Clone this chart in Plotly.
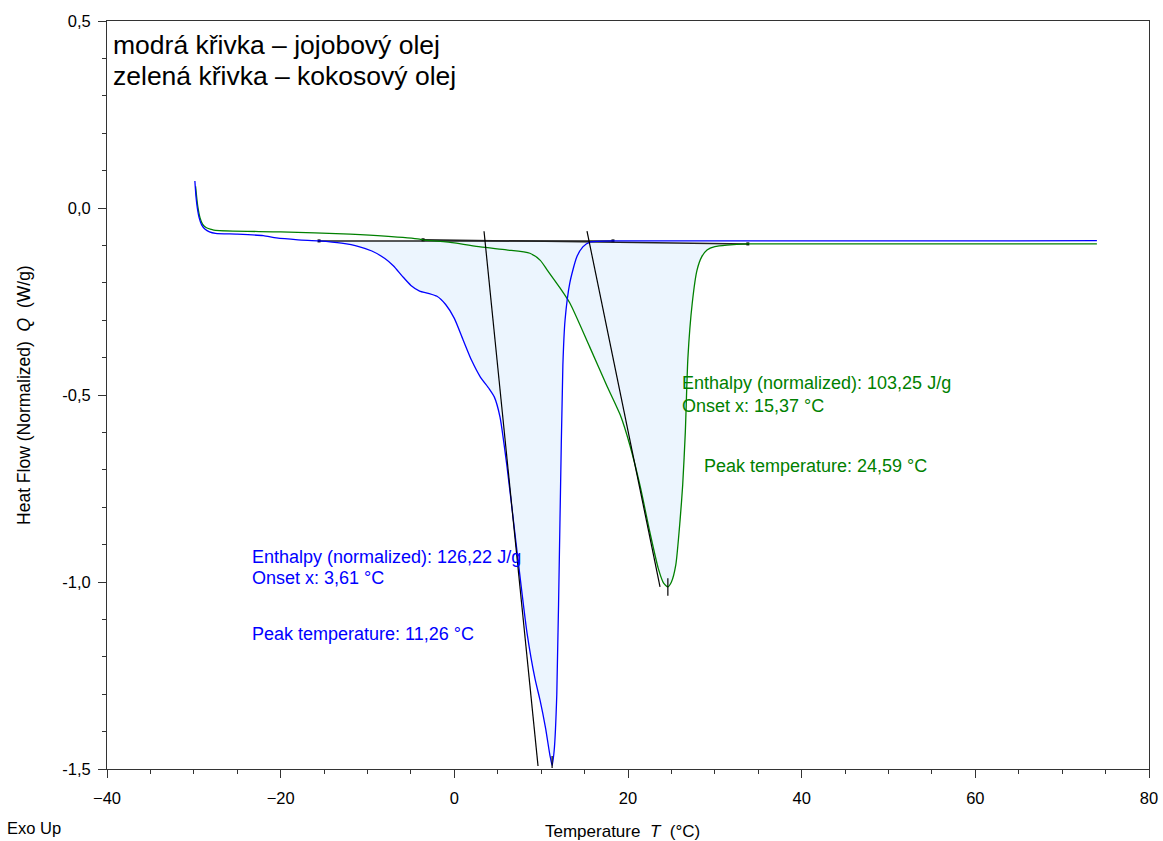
import plotly.graph_objects as go

# ---------------- data ----------------
# blue curve - jojoba oil
blue_x = [-29.88, -29.75, -29.6, -29.4, -29.1, -28.7, -28.2, -27.5, -25.0, -22.0, -20.5, -18.0,
          -15.58, -13.0, -11.0, -9.5, -8.0, -7.0, -6.0, -5.0, -4.0, -3.0, -2.0, -1.0, 0.0,
          1.0, 2.0, 3.0, 4.0, 4.6, 5.26, 6.07, 7.2, 8.37, 9.3, 9.87, 10.5, 11.0, 11.26,
          11.5, 11.8, 12.17, 12.5, 12.75, 13.3, 14.1, 14.8, 15.6, 16.5, 18.27, 25.0, 40.0, 60.0, 74.0]
blue_y = [0.072, 0.030, 0.000, -0.025, -0.045, -0.057, -0.064, -0.068, -0.070, -0.074, -0.080, -0.085,
          -0.088, -0.094, -0.103, -0.115, -0.135, -0.155, -0.182, -0.207, -0.222, -0.228, -0.236, -0.258, -0.295,
          -0.352, -0.408, -0.452, -0.483, -0.505, -0.559, -0.692, -0.914, -1.136, -1.26, -1.316, -1.39, -1.462, -1.49,
          -1.45, -1.30, -0.83, -0.42, -0.30, -0.200, -0.131, -0.104, -0.091, -0.089, -0.088, -0.088, -0.088, -0.088, -0.087]

# green curve - coconut oil
green_x = [-29.8, -29.7, -29.55, -29.3, -29.0, -28.6, -28.0, -27.5, -20.0, -12.0, -8.0, -4.0, -3.6,
           0.0, 3.0, 6.0, 8.7, 9.9, 10.7, 12.0, 13.3, 15.6, 17.6, 19.1, 20.2, 21.4, 22.5,
           23.5, 24.1, 24.59, 25.0, 25.5, 26.0, 26.3, 26.6, 26.9, 27.4, 27.95, 28.5, 29.1, 30.0,
           31.4, 33.8, 40.0, 60.0, 74.0]
green_y = [0.058, 0.035, 0.005, -0.025, -0.043, -0.052, -0.057, -0.060, -0.064, -0.070, -0.075, -0.083, -0.085,
           -0.093, -0.104, -0.112, -0.121, -0.140, -0.166, -0.208, -0.254, -0.372, -0.477, -0.553, -0.633,
           -0.744, -0.865, -0.965, -1.003, -1.013, -1.0, -0.955, -0.834, -0.74, -0.60, -0.40, -0.254, -0.166, -0.130,
           -0.112, -0.103, -0.099, -0.096, -0.096, -0.096, -0.096]

# integration baselines (x start, x end), (y start, y end)
blue_base_x = [-15.58, 18.27]
blue_base_y = [-0.088, -0.088]
green_base_x = [-3.6, 33.8]
green_base_y = [-0.085, -0.096]

# onset tangents
blue_tan_x = [3.42, 9.64]
blue_tan_y = [-0.062, -1.492]
green_tan_x = [15.28, 23.69]
green_tan_y = [-0.062, -1.013]

# peak markers
blue_peak_x = [11.26, 11.26]
blue_peak_y = [-1.465, -1.497]
green_peak_x = [24.59, 24.59]
green_peak_y = [-0.99, -1.037]

y_ticks = [-1.5, -1.0, -0.5, 0.0, 0.5]
y_ticktext = ["-1,5", "-1,0", "-0,5", "0,0", "0,5"]
x_ticks = [-40, -20, 0, 20, 40, 60, 80]

BLUE = "rgb(0,0,255)"
GREEN = "rgb(0,128,0)"
FILL = "rgb(236,245,254)"
FONT = "Liberation Sans, Arial, sans-serif"

fig = go.Figure()


def add_fill(cx, cy, bx, by):
    seg_x = [bx[0]] + [x for x in cx if bx[0] < x < bx[1]] + [bx[1]]
    seg_y = [by[0]] + [y for x, y in zip(cx, cy) if bx[0] < x < bx[1]] + [by[1]]
    fig.add_trace(go.Scatter(x=bx, y=by, mode="lines", line=dict(width=0, color=FILL),
                             showlegend=False, hoverinfo="skip"))
    fig.add_trace(go.Scatter(x=seg_x, y=seg_y, mode="lines", fill="tonexty", fillcolor=FILL,
                             line=dict(width=0, color=FILL, shape="spline", smoothing=0.6),
                             showlegend=False, hoverinfo="skip"))


add_fill(blue_x, blue_y, blue_base_x, blue_base_y)
add_fill(green_x, green_y, green_base_x, green_base_y)

for bx, by in [(blue_base_x, blue_base_y), (green_base_x, green_base_y)]:
    fig.add_trace(go.Scatter(x=bx, y=by, mode="lines+markers", line=dict(color="#222", width=1.5),
                             marker=dict(size=3, color="#000", symbol="square"),
                             showlegend=False))

fig.add_trace(go.Scatter(x=green_x, y=green_y, mode="lines",
                         line=dict(color=GREEN, width=1.3, shape="spline", smoothing=0.6),
                         showlegend=False))
fig.add_trace(go.Scatter(x=blue_x, y=blue_y, mode="lines",
                         line=dict(color=BLUE, width=1.3, shape="spline", smoothing=0.6),
                         showlegend=False))

for tx, ty in [(blue_tan_x, blue_tan_y), (green_tan_x, green_tan_y),
               (blue_peak_x, blue_peak_y), (green_peak_x, green_peak_y)]:
    fig.add_trace(go.Scatter(x=tx, y=ty, mode="lines", line=dict(color="#000", width=1.2),
                             showlegend=False))

annos = [
    dict(x=-39.5, y=0.437, text="modrá křivka – jojobový olej", size=26.5, color="#000"),
    dict(x=-39.5, y=0.353, text="zelená křivka – kokosový olej", size=26.5, color="#000"),
    dict(x=25.95, y=-0.468, text="Enthalpy (normalized): 103,25 J/g", size=18, color=GREEN),
    dict(x=25.95, y=-0.529, text="Onset x: 15,37 °C", size=18, color=GREEN),
    dict(x=28.5, y=-0.690, text="Peak temperature: 24,59 °C", size=18, color=GREEN),
    dict(x=-23.5, y=-0.933, text="Enthalpy (normalized): 126,22 J/g", size=18, color=BLUE),
    dict(x=-23.5, y=-0.989, text="Onset x: 3,61 °C", size=18, color=BLUE),
    dict(x=-23.5, y=-1.139, text="Peak temperature: 11,26 °C", size=18, color=BLUE),
]
for a in annos:
    fig.add_annotation(x=a["x"], y=a["y"], xref="x", yref="y", text=a["text"], showarrow=False,
                       xanchor="left", yanchor="middle",
                       font=dict(family=FONT, size=a["size"], color=a["color"]))

fig.add_annotation(x=-0.0797, y=0.5, xref="paper", yref="paper", textangle=-90,
                   text="Heat Flow (Normalized)  <i>Q</i>  (W/g)", showarrow=False,
                   xanchor="center", yanchor="middle", font=dict(family=FONT, size=17.5, color="#000"))
fig.add_annotation(x=0.4952, y=-0.0829, xref="paper", yref="paper",
                   text="Temperature  <i>T</i>  (°C)", showarrow=False,
                   xanchor="center", yanchor="middle", font=dict(family=FONT, size=17, color="#000"))
fig.add_annotation(x=-0.098, y=-0.0789, xref="paper", yref="paper",
                   text="Exo Up", showarrow=False,
                   xanchor="left", yanchor="middle", font=dict(family=FONT, size=16.5, color="#000"))

fig.update_layout(
    width=1163, height=841,
    margin=dict(l=107, r=14, t=21, b=72, autoexpand=False),
    paper_bgcolor="white", plot_bgcolor="white",
    showlegend=False,
    font=dict(family=FONT, size=16, color="#000"),
)
fig.update_xaxes(range=[-40, 80], tickvals=x_ticks, ticks="outside", ticklen=8, tickcolor="#333",
                 showline=True, linecolor="#333", linewidth=1, mirror=True, showgrid=False,
                 zeroline=False, automargin=False, ticklabelstandoff=6,
                 tickfont=dict(family=FONT, size=16.5, color="#000"),
                 minor=dict(dtick=5, ticks="outside", ticklen=4, tickcolor="#333"))
fig.update_yaxes(range=[-1.5, 0.5], tickvals=y_ticks, ticktext=y_ticktext, ticks="outside", ticklen=8,
                 tickcolor="#333", showline=True, linecolor="#333", linewidth=1, mirror=True,
                 showgrid=False, zeroline=False, automargin=False, ticklabelstandoff=4,
                 tickfont=dict(family=FONT, size=16.5, color="#000"),
                 minor=dict(dtick=0.1, ticks="outside", ticklen=4, tickcolor="#333"))

fig.write_html("out.html")
